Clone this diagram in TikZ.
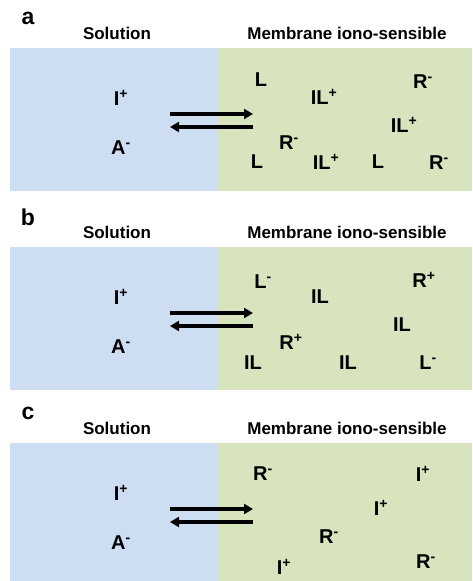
\documentclass[tikz,border=0pt]{standalone}
\usepackage{fontspec}
\setmainfont{Liberation Sans}
\usetikzlibrary{arrows.meta,positioning}
\definecolor{solblue}{RGB}{206,222,242}
\definecolor{memgreen}{RGB}{216,228,190}
\tikzset{
 panel/.style={font=\bfseries\fontsize{23}{23}\selectfont,inner sep=0pt},
 head/.style={font=\bfseries\fontsize{17}{17}\selectfont,inner sep=0pt},
 ion/.style={font=\bfseries\fontsize{20}{20}\selectfont,inner sep=0pt},
 arrow/.style={-{Triangle[length=9pt,width=10pt]},line width=3.3pt}
}
\newcommand{\chg}[1]{\textsuperscript{#1}}

\begin{document}
\begin{tikzpicture}[x=1pt,y=-1pt]
\useasboundingbox (0,0) rectangle (472,581);
% common parts of the three panels
\foreach \p/\yo in {a/0,b/199,c/395}{
 \begin{scope}[yshift=-\yo pt]
  \fill[solblue] (10,48) rectangle (217,191);
  \fill[memgreen] (217,48) rectangle (472,191);
  \node[panel] (lbl-\p) at (28,18) {\p};
  \node[head] (sol-\p) at (117,33) {Solution};
  \node[head] (mem-\p) at (347,33) {Membrane iono-sensible};
  \node[ion] (I-\p) at (121,98) {I\chg{+}};
  \node[ion] (A-\p) at (121,148) {A\chg{-}};
  \coordinate (fw-\p) at (170,114);
  \coordinate (fwe-\p) at (253,114);
  \coordinate (bw-\p) at (253,127);
  \coordinate (bwe-\p) at (170,127);
  \draw[arrow] (fw-\p) -- (fwe-\p);
  \draw[arrow] (bw-\p) -- (bwe-\p);
 \end{scope}
}
% panel a: membrane species
\foreach \n/\x/\y/\t in {1/261/80/L, 2/324/97/IL\chg{+}, 3/423/82/R\chg{-},
  4/404/125/IL\chg{+}, 5/289/143/R\chg{-}, 6/257/162/L, 7/326/162/IL\chg{+},
  8/378/162/L, 9/439/163/R\chg{-}}
  \node[ion] (a-\n) at (\x,\y) {\t};
% panel b
\begin{scope}[yshift=-199pt]
\foreach \n/\x/\y/\t in {1/263/83/L\chg{-}, 2/320/98/IL, 3/424/81/R\chg{+},
  4/402/126/IL, 5/291/143/R\chg{+}, 6/253/164/IL, 7/348/164/IL, 8/428/164/L\chg{-}}
  \node[ion] (b-\n) at (\x,\y) {\t};
\end{scope}
% panel c
\begin{scope}[yshift=-395pt]
\foreach \n/\x/\y/\t in {1/263/79/R\chg{-}, 2/423/79/I\chg{+}, 3/381/113/I\chg{+},
  4/329/142/R\chg{-}, 5/426/167/R\chg{-}, 6/284/172/I\chg{+}}
  \node[ion] (c-\n) at (\x,\y) {\t};
\end{scope}
\end{tikzpicture}
\end{document}
